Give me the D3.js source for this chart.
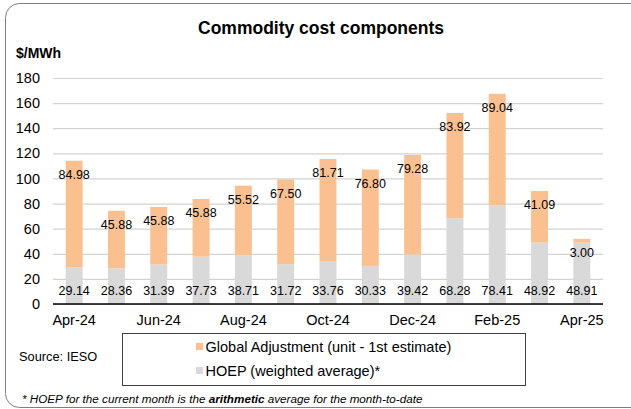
<!DOCTYPE html>
<html>
<head>
<meta charset="utf-8">
<script src="https://cdn.jsdelivr.net/npm/d3@7"></script>
<style>
  html, body { margin: 0; padding: 0; background: #fff; }
  svg { display: block; font-family: "Liberation Sans", Arial, sans-serif; }
</style>
</head>
<body>
<svg id="chart" width="631" height="409"></svg>
<script>
// Monthly commodity cost components, $/MWh
const months = ["Apr-24", "May-24", "Jun-24", "Jul-24", "Aug-24", "Sep-24", "Oct-24",
                "Nov-24", "Dec-24", "Jan-25", "Feb-25", "Mar-25", "Apr-25"];
const hoep = [29.14, 28.36, 31.39, 37.73, 38.71, 31.72, 33.76, 30.33, 39.42, 68.28, 78.41, 48.92, 48.91];
const globalAdjustment = [84.98, 45.88, 45.88, 45.88, 55.52, 67.50, 81.71, 76.80, 79.28, 83.92, 89.04, 41.09, 3.00];
const yTicks = [0, 20, 40, 60, 80, 100, 120, 140, 160, 180];
const xTickLabels = ["Apr-24", "Jun-24", "Aug-24", "Oct-24", "Dec-24", "Feb-25", "Apr-25"];
const seriesNames = ["Global Adjustment (unit - 1st estimate)", "HOEP (weighted average)*"];

const colors = { ga: "#FAC090", hoep: "#D9D9D9" };

const svg = d3.select("#chart");
const plot = { left: 53, right: 603, top: 78, bottom: 304 };

// Outer frame with rounded corners (runs off the right edge)
svg.append("rect")
  .attr("x", 5.5).attr("y", 3.5)
  .attr("width", 660).attr("height", 404)
  .attr("rx", 14).attr("ry", 14)
  .attr("fill", "none").attr("stroke", "#7f7f7f").attr("stroke-width", 1);

// Title and unit
svg.append("text")
  .attr("x", 321).attr("y", 34)
  .attr("text-anchor", "middle")
  .attr("font-size", 17.5).attr("font-weight", "bold")
  .text("Commodity cost components");
svg.append("text")
  .attr("x", 16).attr("y", 58)
  .attr("font-size", 14).attr("font-weight", "bold")
  .text("$/MWh");

const x = d3.scaleBand()
  .domain(months)
  .range([plot.left, plot.right])
  .paddingInner(0.6)
  .paddingOuter(0.3);

const y = d3.scaleLinear()
  .domain([0, 180])
  .range([plot.bottom, plot.top]);

// Gridlines + y labels
const yAxis = d3.axisLeft(y)
  .tickValues(yTicks)
  .tickSize(-(plot.right - plot.left))
  .tickPadding(13)
  .tickFormat(d3.format("d"));
const gy = svg.append("g")
  .attr("transform", `translate(${plot.left},0)`)
  .call(yAxis);
gy.select(".domain").remove();
gy.selectAll(".tick line").attr("stroke", "#D3D3D3").attr("stroke-width", 1.2);
gy.selectAll(".tick text")
  .attr("font-size", 14.5).attr("fill", "#000")
  .attr("font-family", "Liberation Sans, Arial, sans-serif");

// Stacked bars
const rows = months.map((m, i) => ({ month: m, hoep: hoep[i], ga: globalAdjustment[i] }));
const stack = d3.stack().keys(["hoep", "ga"])(rows);

svg.append("g").selectAll("g")
  .data(stack)
  .join("g")
  .attr("fill", d => colors[d.key])
  .selectAll("rect")
  .data(d => d)
  .join("rect")
  .attr("x", d => x(d.data.month))
  .attr("width", x.bandwidth())
  .attr("y", d => y(d[1]))
  .attr("height", d => y(d[0]) - y(d[1]));

// Data labels: HOEP at the base, Global Adjustment just inside the top
const labels = svg.append("g")
  .attr("font-size", 12.5).attr("fill", "#000").attr("text-anchor", "middle");
labels.selectAll("text.hoep")
  .data(rows)
  .join("text")
  .attr("class", "hoep")
  .attr("x", d => x(d.month) + x.bandwidth() / 2)
  .attr("y", d => y(0) - 13)
  .attr("dy", "0.35em")
  .text(d => d.hoep.toFixed(2));
labels.selectAll("text.ga")
  .data(rows)
  .join("text")
  .attr("class", "ga")
  .attr("x", d => x(d.month) + x.bandwidth() / 2)
  .attr("y", d => y(d.hoep + d.ga) + 14)
  .attr("dy", "0.35em")
  .text(d => d.ga.toFixed(2));

// X axis
const xAxis = d3.axisBottom(x)
  .tickValues(xTickLabels)
  .tickSize(0)
  .tickPadding(11);
const gx = svg.append("g")
  .attr("transform", `translate(0,${plot.bottom})`)
  .call(xAxis);
gx.select(".domain").attr("stroke", "#000").attr("stroke-width", 1.3)
  .attr("d", `M${plot.left},0H${plot.right}`);
gx.selectAll(".tick text")
  .attr("font-size", 14.5).attr("fill", "#000")
  .attr("font-family", "Liberation Sans, Arial, sans-serif");

// Source note
svg.append("text")
  .attr("x", 19).attr("y", 361)
  .attr("font-size", 12.8)
  .text("Source: IESO");

// Legend
const legend = svg.append("g");
legend.append("rect")
  .attr("x", 122.5).attr("y", 333.5)
  .attr("width", 403).attr("height", 52)
  .attr("fill", "#fff").attr("stroke", "#404040").attr("stroke-width", 1);
const legendItems = [
  { name: seriesNames[0], color: colors.ga, cy: 346.5 },
  { name: seriesNames[1], color: colors.hoep, cy: 370.5 }
];
const li = legend.selectAll("g.item")
  .data(legendItems)
  .join("g")
  .attr("class", "item");
li.append("rect")
  .attr("x", 196).attr("y", d => d.cy - 3.5)
  .attr("width", 7).attr("height", 7)
  .attr("fill", d => d.color);
li.append("text")
  .attr("x", 205.5).attr("y", d => d.cy)
  .attr("dy", "0.35em")
  .attr("font-size", 14.5)
  .text(d => d.name);

// Footnote
const foot = svg.append("text")
  .attr("x", 22).attr("y", 403)
  .attr("font-size", 11.7).attr("font-style", "italic");
foot.append("tspan").text("* HOEP for the current month is the ");
foot.append("tspan").attr("font-weight", "bold").text("arithmetic");
foot.append("tspan").text(" average for the month-to-date");
</script>
</body>
</html>
